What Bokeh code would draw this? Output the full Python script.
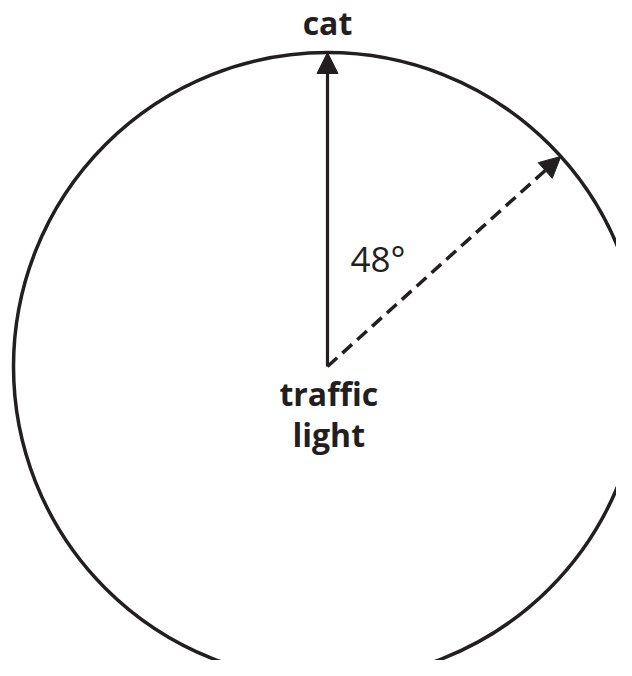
import math
from bokeh.plotting import figure
from bokeh.models import Range1d, Arrow, NormalHead
from bokeh.core.properties import value
from bokeh.embed import file_html
from bokeh.resources import INLINE

# ---- data ----
angle_deg = [48]                 # angle between the two arrows (degrees from vertical)
angle_label = ["48°"]
top_label = ["cat"]
center_label = ["traffic", "light"]
radius = [1.0]                   # unit circle

INK = "#231f20"
PX = 314.0  # pixels per unit

# figure occupies image px 0..616 x 0..660; circle centre at image (327, 366)
cx, cy = 327.0, 366.0
x0, x1 = (0 - cx) / PX, (616 - cx) / PX
y0, y1 = (cy - 660) / PX, (cy - 0) / PX
dy = 12  # baseline correction in px

p = figure(width=616, height=660, output_backend="svg", toolbar_location=None,
           x_range=Range1d(x0, x1), y_range=Range1d(y0, y1), min_border=0)
p.axis.visible = False
p.grid.visible = False
p.outline_line_color = None
p.background_fill_color = "white"
p.border_fill_color = "white"

# circle
p.circle(x=[0], y=[0], radius=radius, fill_color=None, line_color=INK, line_width=3.5)

r = radius[0]
# solid arrow to "cat" (straight up)
p.add_layout(Arrow(x_start=0, y_start=0, x_end=0, y_end=r,
                   line_color=INK, line_width=3.2,
                   end=NormalHead(size=21, fill_color=INK, line_color=INK, line_width=1)))

# dashed arrow at the given angle
a = math.radians(angle_deg[0])
p.add_layout(Arrow(x_start=0, y_start=0, x_end=r * math.sin(a), y_end=r * math.cos(a),
                   line_color=INK, line_width=3.5, line_dash="13 7",
                   end=NormalHead(size=21, fill_color=INK, line_color=INK, line_width=1)))

# labels
p.text(x=[0], y=[(cy - 34 + dy) / PX], text=top_label, text_font=value("Open Sans"),
       text_font_style="bold", text_font_size="32px", text_align="center",
       text_baseline="alphabetic", text_color=INK)
p.text(x=[(350 - cx) / PX], y=[(cy - 270 + dy) / PX], text=angle_label, text_font=value("Open Sans"),
       text_font_size="35px", text_align="left", text_baseline="alphabetic", text_color=INK)
p.text(x=[0.004, 0.004], y=[(cy - 405 + dy) / PX, (cy - 446 + dy) / PX], text=center_label,
       text_font=value("Open Sans"), text_font_style="bold", text_font_size="32px",
       text_align="center", text_baseline="alphabetic", text_color=INK)

open("out.html", "w").write(file_html(p, INLINE))
